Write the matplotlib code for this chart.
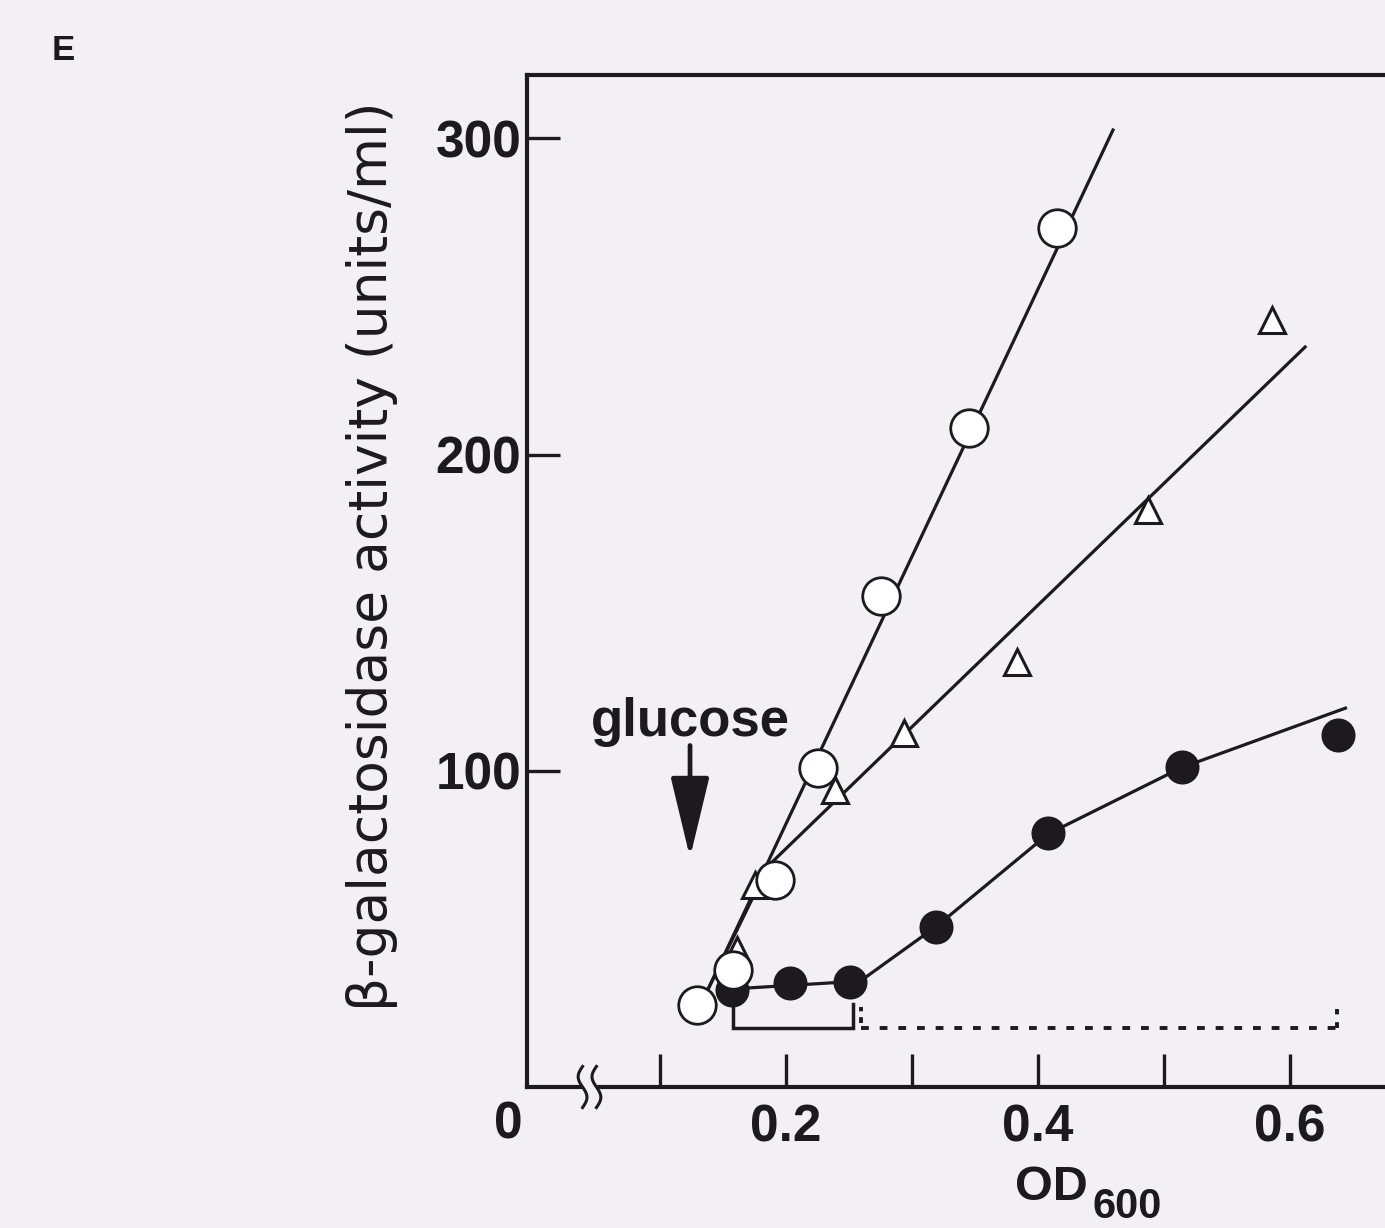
import numpy as np
import matplotlib
matplotlib.use("Agg")
import matplotlib.pyplot as plt

# ---- data ----
od_open = [0.129, 0.158, 0.191, 0.225, 0.275, 0.345, 0.415]
act_open = [25.9, 37.0, 65.5, 100.9, 155.3, 208.4, 271.6]

od_tri = [0.161, 0.175, 0.239, 0.294, 0.383, 0.487, 0.586]
act_tri = [43.3, 63.9, 93.9, 111.9, 134.3, 182.5, 242.5]

od_filled = [0.157, 0.203, 0.251, 0.319, 0.408, 0.514, 0.638]
act_filled = [30.7, 32.9, 33.2, 50.6, 80.3, 101.2, 111.3]

# drawn fit lines
fit_open_x = [0.137, 0.4595]
fit_open_y = [30.0, 302.6]
fit_tri_x = [0.137, 0.186, 0.612]
fit_tri_y = [30.0, 70.0, 234.0]
fit_filled_x = [0.157, 0.259, 0.320, 0.408, 0.514, 0.644]
fit_filled_y = [31.0, 33.5, 51.0, 80.0, 101.0, 119.8]

# brackets under the curves
solid_bracket = (0.158, 0.253)
dotted_bracket = (0.2595, 0.6373)
bracket_y = 18.7

glucose_od = 0.1238

xticks = [0.1, 0.2, 0.3, 0.4, 0.5, 0.6]
xticklabels = ["", "0.2", "", "0.4", "", "0.6"]
yticks = [100, 200, 300]

W, H = 1385, 1228
bg = "#f2f0f4"

plt.rcParams["font.family"] = ["Liberation Sans", "DejaVu Sans"]

fig = plt.figure(figsize=(W / 100, H / 100), dpi=100, facecolor=bg)
ax = fig.add_axes([527 / W, 1 - 1087 / H, (1416 - 527) / W, (1087 - 75) / H])
ax.set_facecolor(bg)
ax.set_xlim(-0.0056, 0.7)
ax.set_ylim(0, 320)

ink = "#1c1a1e"
lw = 2.3

# fit lines
ax.plot(fit_open_x, fit_open_y, color=ink, lw=lw, zorder=2)
ax.plot(fit_tri_x, fit_tri_y, color=ink, lw=lw, zorder=2)
ax.plot(fit_filled_x, fit_filled_y, color=ink, lw=lw, zorder=2)

# data points
ax.plot(od_filled, act_filled, "o", ms=23, mfc=ink, mec=ink, mew=1.5, zorder=3)
ax.plot(od_tri, act_tri, "^", ms=19, mfc="white", mec=ink, mew=2.2, zorder=4)
ax.plot(od_open, act_open, "o", ms=27, mfc="white", mec=ink, mew=2.0, zorder=5)

# brackets
x0, x1 = solid_bracket
ax.plot([x0, x0, x1, x1], [bracket_y + 7.3, bracket_y, bracket_y, bracket_y + 7.6],
        color=ink, lw=2.5, solid_joinstyle="miter", zorder=2)
d0, d1 = dotted_bracket
ax.plot([d0, d1], [bracket_y, bracket_y], color=ink, lw=2.8,
        linestyle=(0, (2.0, 2.8)), zorder=2)
ax.plot([d0, d0], [bracket_y + 1.5, bracket_y + 6.5], color=ink, lw=2.8,
        linestyle=(0, (1.5, 1.5)), zorder=2)
ax.plot([d1, d1], [bracket_y, bracket_y + 6], color=ink, lw=2.8,
        linestyle=(0, (1.5, 2.0)), zorder=2)

# glucose arrow
ax.annotate("", xy=(glucose_od, 72.5), xytext=(glucose_od, 108),
            arrowprops=dict(arrowstyle="-|>,head_length=2.5,head_width=0.6",
                            mutation_scale=20, color=ink, lw=3.4,
                            shrinkA=0, shrinkB=0))
ax.text(glucose_od, 111, "glucose", ha="center", va="baseline",
        fontsize=38, fontweight="bold", color=ink)

# axes styling
for side in ["left", "bottom", "top"]:
    ax.spines[side].set_linewidth(3)
    ax.spines[side].set_color(ink)
ax.spines["right"].set_visible(False)

ax.set_xticks(xticks)
ax.set_xticklabels(xticklabels)
ax.set_yticks(yticks)
ax.tick_params(direction="in", length=24, width=2.4, color=ink,
               labelsize=37, labelcolor=ink)
ax.tick_params(axis="x", pad=12)
ax.tick_params(axis="y", pad=4)
for lab in ax.get_xticklabels() + ax.get_yticklabels():
    lab.set_fontweight("bold")

# axis break on x axis
xc = 0.044
t = np.linspace(-1, 1, 40)
ax.fill_between([xc - 0.0055, xc + 0.0055], -2, 2, color=bg, zorder=6, clip_on=False)
for off in [-0.0055, 0.0055]:
    ax.plot(xc + off + 0.0035 * np.sin(np.pi * t), -6.5 * t, color=ink, lw=2.2,
            zorder=7, clip_on=False)

# labels
fig.text(508 / W, 1 - 1125 / H, "0", ha="center", va="center", fontsize=37,
         fontweight="bold", color=ink)
fig.text(1015 / W, 1 - 1200 / H, "OD", ha="left", va="baseline", fontsize=35,
         fontweight="bold", color=ink)
fig.text(1092 / W, 1 - 1218 / H, "600", ha="left", va="baseline", fontsize=30,
         fontweight="bold", color=ink)
fig.text(372 / W, 1 - 556 / H, "β-galactosidase activity (units/ml)",
         rotation=90, ha="center", va="center", fontsize=38.5,
         family="DejaVu Sans", color=ink)
fig.text(52 / W, 1 - 60 / H, "E", ha="left", va="baseline", fontsize=25,
         fontweight="bold", color=ink)

fig.savefig("out.png", dpi=100, facecolor=bg)
